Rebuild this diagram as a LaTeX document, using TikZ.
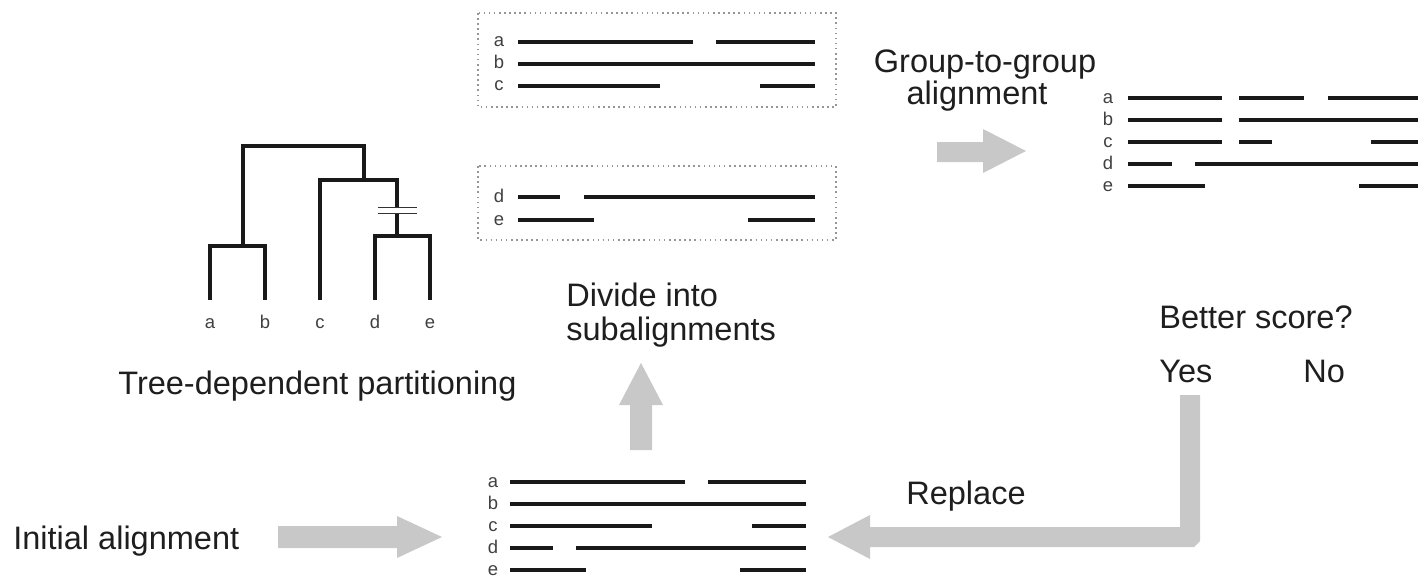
\documentclass[tikz,border=0pt]{standalone}
\usepackage{fontspec}
\setmainfont{Liberation Sans}
\definecolor{arrowgray}{RGB}{200,200,200}
\definecolor{txt}{RGB}{30,30,30}
\definecolor{boxgray}{RGB}{150,150,150}
\begin{document}
\begin{tikzpicture}[x=0.02cm,y=-0.02cm,
  lbl/.style={font=\fontsize{18.5}{22}\selectfont, text=txt, inner sep=0, anchor=base west},
  lblc/.style={font=\fontsize{18.5}{22}\selectfont, text=txt, inner sep=0, anchor=base},
  seq/.style={font=\fontsize{10.5}{12}\selectfont, text=txt!85, inner sep=0, anchor=base},
  aln/.style={line width=0.08cm, draw=black!90},
  treeline/.style={line width=0.07cm, draw=black!90, line join=miter},
  brk/.style={line width=0.035cm, draw=black!80},
  fat/.style={fill=arrowgray, draw=none},
  dbox/.style={draw=boxgray, dotted, line width=0.9pt}]
\useasboundingbox (0,0) rectangle (1418,578);

% ---------- text labels ----------
\node[lbl] (init) at (13,549) {Initial alignment};
\node[lbl] (tdp) at (118,394) {Tree-dependent partitioning};
\node[lbl] (div1) at (566,306) {Divide into};
\node[lbl] (div2) at (566,340) {subalignments};
\node[lblc] (g2g1) at (985,72) {Group-to-group};
\node[lblc] (g2g2) at (977,104) {alignment};
\node[lbl] (better) at (1159,328) {Better score?};
\node[lbl] (yes) at (1159,382) {Yes};
\node[lbl] (no) at (1303,382) {No};
\node[lbl] (repl) at (906,504) {Replace};

% ---------- tree ----------
\draw[treeline] (210,300) -- (210,246) -- (265,246) -- (265,300);
\draw[treeline] (243,246) -- (243,146) -- (364,146) -- (364,180);
\draw[treeline] (320,300) -- (320,180) -- (397,180) -- (397,208);
\draw[treeline] (397,213) -- (397,236);
\draw[treeline] (375,300) -- (375,236) -- (430,236) -- (430,300);
\draw[brk] (378,207.5) -- (417,207.5);
\draw[brk] (378,213.5) -- (417,213.5);
\foreach \x/\l in {210/a,265/b,320/c,375/d,430/e}
  \node[seq] (t\l) at (\x,328) {\l};

% ---------- dotted boxes ----------
\draw[dbox] (478,13) rectangle (836,107);
\draw[dbox] (478,166) rectangle (836,240);

% box 1 rows a,b,c
\node[seq] (s1a) at (499,47) {a};
\node[seq] (s1b) at (499,69) {b};
\node[seq] (s1c) at (499,91) {c};
\draw[aln] (518,42) -- (693,42) (716,42) -- (815,42);
\draw[aln] (518,64) -- (815,64);
\draw[aln] (518,86) -- (660,86) (760,86) -- (815,86);
% box 2 rows d,e
\node[seq] (s2d) at (499,202) {d};
\node[seq] (s2e) at (499,225) {e};
\draw[aln] (518,197) -- (560,197) (584,197) -- (815,197);
\draw[aln] (518,220) -- (594,220) (748,220) -- (815,220);

% ---------- merged alignment (right) ----------
\node[seq] (r1a) at (1108,103) {a};
\node[seq] (r1b) at (1108,125) {b};
\node[seq] (r1c) at (1108,147) {c};
\node[seq] (r1d) at (1108,169) {d};
\node[seq] (r1e) at (1108,191) {e};
\draw[aln] (1128,98) -- (1222,98) (1239,98) -- (1304,98) (1328,98) -- (1418,98);
\draw[aln] (1128,120) -- (1222,120) (1239,120) -- (1418,120);
\draw[aln] (1128,142) -- (1222,142) (1239,142) -- (1272,142) (1371,142) -- (1418,142);
\draw[aln] (1128,164) -- (1172,164) (1195,164) -- (1418,164);
\draw[aln] (1128,186) -- (1205,186) (1359,186) -- (1418,186);

% ---------- bottom alignment ----------
\node[seq] (b1a) at (493,487) {a};
\node[seq] (b1b) at (493,509) {b};
\node[seq] (b1c) at (493,531) {c};
\node[seq] (b1d) at (493,553) {d};
\node[seq] (b1e) at (493,575) {e};
\draw[aln] (510,482) -- (685,482) (708,482) -- (806,482);
\draw[aln] (510,504) -- (806,504);
\draw[aln] (510,526) -- (652,526) (752,526) -- (806,526);
\draw[aln] (510,548) -- (553,548) (576,548) -- (806,548);
\draw[aln] (510,570) -- (586,570) (740,570) -- (806,570);

% ---------- fat arrows ----------
\fill[fat] (278,526) -- (397,526) -- (397,516) -- (442,537) -- (397,558) -- (397,548) -- (278,548) -- cycle;
\fill[fat] (937,142) -- (983,142) -- (983,129) -- (1026,151) -- (983,173) -- (983,162) -- (937,162) -- cycle;
\fill[fat] (630,450) -- (630,405) -- (619,405) -- (641,363) -- (663,405) -- (652,405) -- (652,450) -- cycle;
\fill[fat] (1180,395) -- (1200,395) -- (1200,541) -- (1194,547) -- (870,547) -- (870,559) -- (828,537) -- (870,515) -- (870,527) -- (1180,527) -- cycle;
\end{tikzpicture}
\end{document}
